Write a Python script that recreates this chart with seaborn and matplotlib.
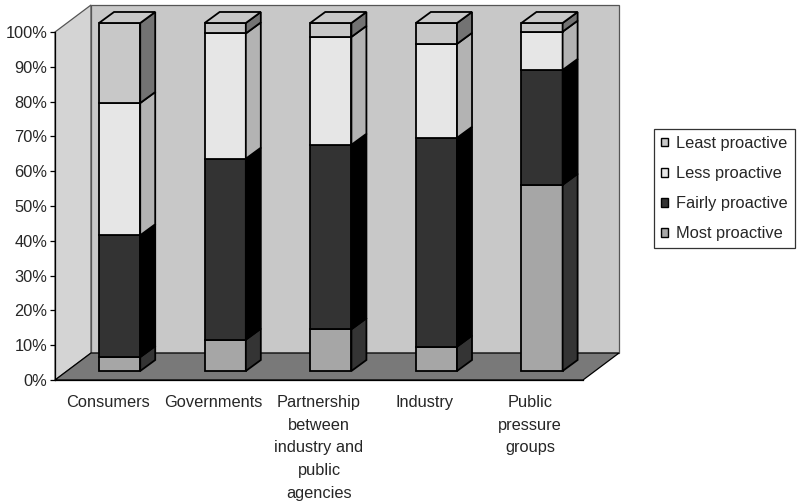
import numpy as np
import matplotlib
matplotlib.use("Agg")
import matplotlib.pyplot as plt
from matplotlib.patches import Polygon, Patch
import seaborn as sns

categories = ["Consumers", "Governments",
              "Partnership\nbetween\nindustry and\npublic\nagencies",
              "Industry", "Public\npressure\ngroups"]
series_names = ["Most proactive", "Fairly proactive", "Less proactive", "Least proactive"]
most = [4, 9, 12, 7, 53.5]
fairly = [35, 52, 53, 60, 33]
less = [38, 36, 31, 27, 11]
least = [23, 3, 4, 6, 2.5]
y_ticks = [0, 10, 20, 30, 40, 50, 60, 70, 80, 90, 100]
y_tick_labels = [f"{v}%" for v in y_ticks]

front_colors = ["#a6a6a6", "#333333", "#e6e6e6", "#c8c8c8"]
side_colors = ["#343434", "#000000", "#b3b3b3", "#737373"]

sns.set_style("white")
plt.rcParams["font.family"] = ["Liberation Sans", "DejaVu Sans"]
FS = 11.8

W, H = 806, 504
fig = plt.figure(figsize=(W / 100, H / 100), dpi=100)
ax = fig.add_axes([55 / W, (H - 380) / H, 528 / W, 348 / H])

n = len(categories)
# perspective depth of the whole chart and of the bars (data units)
DX, DY = 0.341, 7.76
OX, OY = 0.112, 2.59
BDX, BDY = 0.142, 3.16
BW = 0.39

# walls and floor
side_wall = Polygon([(-0.5, 0), (-0.5, 100), (-0.5 + DX, 100 + DY), (-0.5 + DX, DY)],
                    closed=True, facecolor="#d4d4d4", edgecolor="#555555", lw=0.9,
                    clip_on=False, zorder=0)
back_wall = Polygon([(-0.5 + DX, DY), (n - 0.5 + DX, DY), (n - 0.5 + DX, 100 + DY),
                     (-0.5 + DX, 100 + DY)], closed=True, facecolor="#c8c8c8",
                    edgecolor="#555555", lw=0.9, clip_on=False, zorder=0)
floor = Polygon([(-0.5, 0), (n - 0.5, 0), (n - 0.5 + DX, DY), (-0.5 + DX, DY)],
                closed=True, facecolor="#797979", edgecolor="black", lw=0.9,
                clip_on=False, zorder=1)
for p in (side_wall, back_wall, floor):
    ax.add_patch(p)

xpos = np.arange(n) + OX
data = [np.array(most, float), np.array(fairly, float), np.array(less, float), np.array(least, float)]
bottoms = np.zeros(n)
for k, seg in enumerate(data):
    sns.barplot(x=xpos, y=seg, bottom=OY + bottoms, native_scale=True, width=BW,
                color=front_colors[k], edgecolor="black", linewidth=1.3,
                errorbar=None, ax=ax, zorder=3, clip_on=False, saturation=1)
    for i in range(n):
        x1 = xpos[i] + BW / 2
        b = OY + bottoms[i]
        t = OY + bottoms[i] + seg[i]
        ax.add_patch(Polygon([(x1, b), (x1 + BDX, b + BDY), (x1 + BDX, t + BDY), (x1, t)],
                             closed=True, facecolor=side_colors[k], edgecolor="black",
                             lw=1.3, clip_on=False, zorder=3))
    bottoms = bottoms + seg

for i in range(n):
    x0 = xpos[i] - BW / 2
    x1 = xpos[i] + BW / 2
    t = OY + bottoms[i]
    ax.add_patch(Polygon([(x0, t), (x1, t), (x1 + BDX, t + BDY), (x0 + BDX, t + BDY)],
                         closed=True, facecolor=front_colors[-1], edgecolor="black",
                         lw=1.3, clip_on=False, zorder=3))

ax.set_xlim(-0.5, n - 0.5)
ax.set_ylim(0, 100)
ax.set_yticks(y_ticks)
ax.set_yticklabels(y_tick_labels, fontsize=FS)
ax.set_xticks(np.arange(n))
ax.set_xticklabels(categories, fontsize=FS, linespacing=1.63, va="top")
ax.set_xticks(np.arange(n + 1) - 0.5, minor=True)
ax.tick_params(axis="x", which="major", length=0, pad=11)
ax.tick_params(axis="x", which="minor", length=5, width=0.9, color="black", direction="out")
ax.tick_params(axis="y", which="major", length=3.5, width=0.9, color="black",
               direction="out", pad=2, left=True)
ax.set_xlabel("")
ax.set_ylabel("")
for s in ("top", "right"):
    ax.spines[s].set_visible(False)
for s in ("left", "bottom"):
    ax.spines[s].set_color("black")
    ax.spines[s].set_linewidth(0.9)
    ax.spines[s].set_zorder(5)
ax.patch.set_visible(False)
ax.grid(False)

handles = [Patch(facecolor=front_colors[k], edgecolor="black", lw=1.0) for k in (3, 2, 1, 0)]
labels = [series_names[k] for k in (3, 2, 1, 0)]
leg = fig.legend(handles, labels, loc="upper left",
                 bbox_to_anchor=(654 / W, 1 - 129 / H), fontsize=FS,
                 frameon=True, fancybox=False, shadow=False, borderaxespad=0,
                 handlelength=0.45, handleheight=0.45, handletextpad=0.5,
                 labelspacing=0.92, borderpad=0.42)
leg.get_frame().set_edgecolor("black")
leg.get_frame().set_linewidth(0.9)
leg.get_frame().set_facecolor("white")

fig.savefig("out.png", dpi=100, facecolor="white")
